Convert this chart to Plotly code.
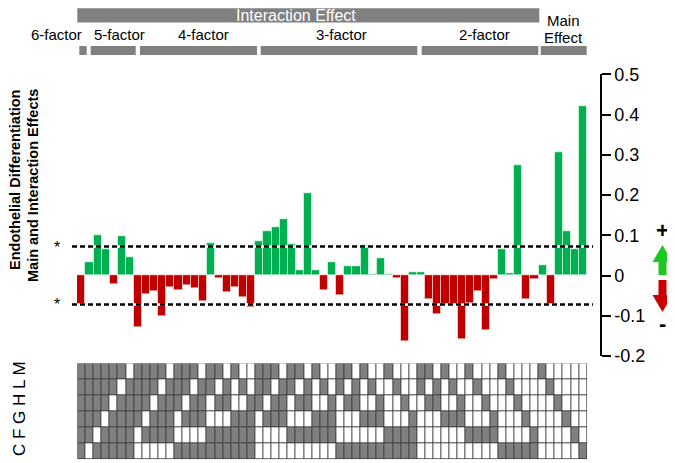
import plotly.graph_objects as go

# ---------------- data ----------------
factors = ["C", "F", "G", "H", "L", "M"]

combos = [
    "CFGHLM",
    "FGHLM", "CGHLM", "CFHLM", "CFGLM", "CFGHM", "CFGHL",
    "GHLM", "FHLM", "FGLM", "FGHM", "FGHL", "CHLM", "CGLM", "CGHM", "CGHL",
    "CFLM", "CFHM", "CFHL", "CFGM", "CFGL", "CFGH",
    "HLM", "GLM", "GHM", "GHL", "FLM", "FHM", "FHL", "FGM", "FGL", "FGH",
    "CLM", "CHM", "CHL", "CGM", "CGL", "CGH", "CFM", "CFL", "CFH", "CFG",
    "LM", "HM", "HL", "GM", "GL", "GH", "FM", "FL", "FH", "FG",
    "CM", "CL", "CH", "CG", "CF",
    "M", "L", "H", "G", "F", "C",
]

effects = [
    -0.073,
    0.032, 0.100, 0.065, -0.022, 0.097, 0.045,
    -0.129, -0.047, -0.040, -0.101, -0.029, -0.037, -0.024, -0.032, -0.064,
    0.080, -0.007, -0.042, -0.030, -0.053, -0.080,
    0.085, 0.110, 0.119, 0.140, 0.078, 0.014, 0.204, 0.012, -0.036, 0.034,
    -0.048, 0.023, 0.023, 0.075, 0.002, 0.042, 0.002, -0.006, -0.163, 0.007,
    0.007, -0.058, -0.097, -0.072, -0.072, -0.159, -0.068, -0.040, -0.137,
    -0.009, 0.064, 0.006, 0.274, -0.059, -0.009,
    0.026, -0.072, 0.306, 0.109, 0.064, 0.421,
]

threshold = 0.072
tick_vals = [-0.2, -0.1, 0, 0.1, 0.2, 0.3, 0.4, 0.5]
tick_text = ["-0.2", "-0.1", "0", "0.1", "0.2", "0.3", "0.4", "0.5"]

group_labels = ["6-factor", "5-factor", "4-factor", "3-factor", "2-factor"]

# ---------------- geometry helpers (page pixel coords -> paper) ----------------
W, H = 675, 463
OX, OY = 8, 8            # page body margin offset of the figure div
PLOT_L, PLOT_R = 77, 600  # plot area in page pixels
ML = PLOT_L - OX
MR = W - (PLOT_R - OX)
PW = PLOT_R - PLOT_L
FONT = "Liberation Sans, Arial, sans-serif"


def px(x):
    return (x - PLOT_L) / PW


def py(y):
    return (H - (y - OY)) / H


GREEN = "#00B050"
RED = "#C00000"
GRAY = "#808080"

cols = list(range(1, len(effects) + 1))
bar_colors = [GREEN if v >= 0 else RED for v in effects]

z = [[1 if f in c else 0 for c in combos] for f in factors]

fig = go.Figure()

fig.add_trace(go.Bar(
    x=cols, y=effects, marker=dict(color=bar_colors,
                                   line=dict(color="rgba(255,255,255,0.55)", width=1)),
    width=1.0, xaxis="x", yaxis="y", hoverinfo="skip",
))

fig.add_trace(go.Heatmap(
    x=cols, y=list(range(len(factors))), z=z,
    colorscale=[[0, "white"], [1, GRAY]], zmin=0, zmax=1,
    showscale=False, xgap=1, ygap=1, xaxis="x", yaxis="y2", hoverinfo="skip",
))

shapes = []
shapes.append(dict(type="rect", xref="x", yref="y2", x0=0.5, x1=len(cols) + 0.5,
                   y0=-0.5, y1=len(factors) - 0.5, fillcolor="#3c3c3c",
                   line=dict(width=0), layer="below"))

for yv in (threshold, -threshold):
    shapes.append(dict(type="line", xref="paper", yref="y", x0=px(72), x1=px(593),
                       y0=yv, y1=yv, line=dict(color="white", width=2.5)))
    shapes.append(dict(type="line", xref="paper", yref="y", x0=px(72), x1=px(593),
                       y0=yv, y1=yv, line=dict(color="black", width=2.5, dash="5px,3px")))

# header bars
shapes.append(dict(type="rect", xref="paper", yref="paper", x0=px(77.3), x1=px(539.3),
                   y0=py(22.5), y1=py(8.3), fillcolor=GRAY, line=dict(width=0)))
group_bars = [(79.3, 86.7), (90.7, 135.7), (140, 257), (260.7, 417.3), (421.7, 538.3), (540.7, 586.7)]
for x0, x1 in group_bars:
    shapes.append(dict(type="rect", xref="paper", yref="paper", x0=px(x0), x1=px(x1),
                       y0=py(55), y1=py(46), fillcolor=GRAY, line=dict(width=0)))


def path(points):
    return "M " + " L ".join(f"{px(x):.5f},{py(y):.5f}" for x, y in points) + " Z"


up = [(662.5, 245), (672.5, 262), (666.5, 262), (666.5, 275), (658.5, 275), (658.5, 262), (652.5, 262)]
down = [(658.5, 280), (666.5, 280), (666.5, 295), (672.5, 295), (662.5, 312), (652.5, 295), (658.5, 295)]
shapes.append(dict(type="path", xref="paper", yref="paper", path=path(up),
                   fillcolor="#1ec81e", line=dict(width=0)))
shapes.append(dict(type="path", xref="paper", yref="paper", path=path(down),
                   fillcolor="#cc0000", line=dict(width=0)))

annotations = []


def ann(text, x, y, size=15, color="black", angle=0, bold=False):
    t = f"<b>{text}</b>" if bold else text
    annotations.append(dict(text=t, x=px(x), y=py(y), xref="paper", yref="paper",
                            showarrow=False, textangle=angle, xanchor="center", yanchor="middle",
                            font=dict(family=FONT, size=size, color=color)))


ann("Interaction Effect", 296, 15.4, size=16, color="white")
for lab, xc in zip(group_labels, [56, 119, 203, 341, 484]):
    ann(lab, xc, 34, size=15)
ann("Main", 563, 20, size=15)
ann("Effect", 563, 37, size=15)
ann("*", 57, 247, size=16)
ann("*", 57, 304, size=16)
ann("Endothelial Differentiation", 15, 180, size=14.5, angle=-90, bold=True)
ann("Main and Interaction Effects", 33, 186, size=14.5, angle=-90, bold=True)
ann("C F G H L M", 19, 409, size=17, angle=-90)
ann("+", 662.5, 230, size=22, bold=True)
ann("-", 662.5, 323, size=22, bold=True)

fig.update_layout(
    width=W, height=H,
    margin=dict(l=ML, r=MR, t=0, b=0, pad=0, autoexpand=False),
    paper_bgcolor="white", plot_bgcolor="white",
    showlegend=False, bargap=0,
    font=dict(family=FONT, color="black"),
    xaxis=dict(range=[0.46, 65.1], visible=False, showgrid=False, zeroline=False, automargin=False),
    yaxis=dict(domain=[py(356), py(74.3)], range=[-0.2, 0.5], side="right", anchor="x",
               showline=True, linecolor="black", linewidth=1.5,
               ticks="outside", ticklen=9, tickwidth=1.5, tickcolor="black",
               tickvals=tick_vals, ticktext=tick_text,
               tickfont=dict(family=FONT, size=18, color="black"),
               showgrid=False, zeroline=False, automargin=False),
    yaxis2=dict(domain=[py(459.3), py(363.3)], range=[-0.5, len(factors) - 0.5],
                visible=False, anchor="x", automargin=False),
    shapes=shapes, annotations=annotations,
)

fig.write_html("out.html")
